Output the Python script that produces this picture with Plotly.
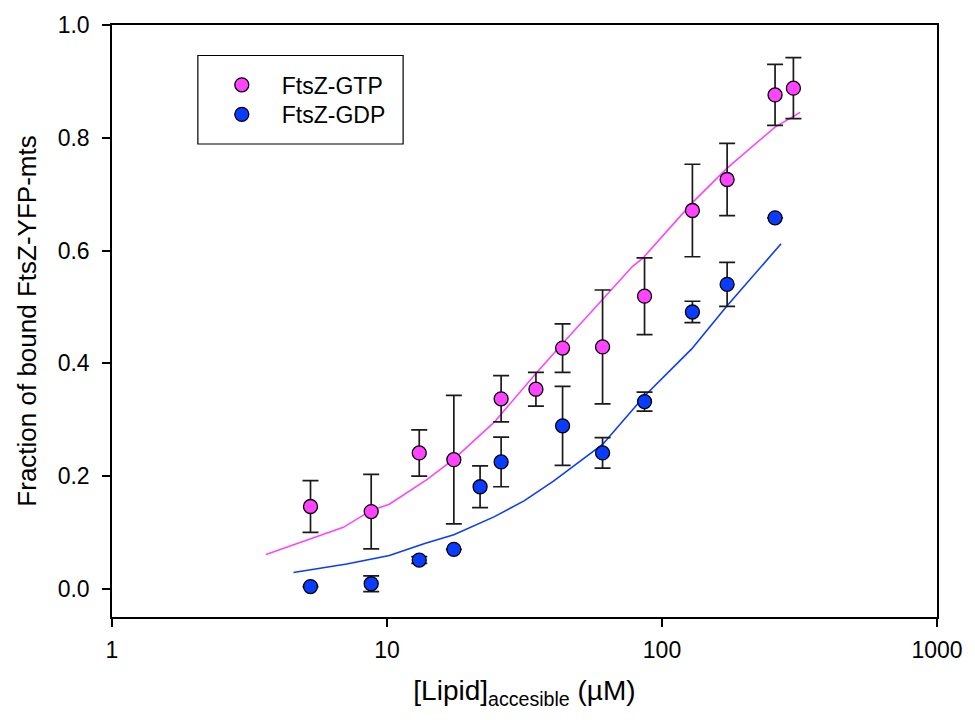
import plotly.graph_objects as go

# Accessible lipid concentration (µM) and fraction of bound FtsZ-YFP-mts
gtp_x = [5.27, 8.76, 13.1, 17.5, 26.0, 34.8, 43.5, 60.8, 86.4, 129, 172.5, 257.7, 300.5]
gtp_y = [0.146, 0.137, 0.241, 0.229, 0.337, 0.354, 0.427, 0.429, 0.519, 0.671, 0.726, 0.876, 0.888]
gtp_err = [0.046, 0.066, 0.041, 0.114, 0.041, 0.030, 0.043, 0.101, 0.068, 0.082, 0.064, 0.054, 0.054]

gdp_x = [5.27, 8.76, 13.1, 17.5, 21.8, 26.0, 43.5, 60.8, 86.4, 129, 172.5, 257.7]
gdp_y = [0.004, 0.009, 0.051, 0.070, 0.181, 0.225, 0.289, 0.241, 0.332, 0.491, 0.540, 0.658]
gdp_err = [None, 0.014, 0.006, None, 0.037, 0.044, 0.070, 0.027, 0.017, 0.019, 0.039, None]

# Binding fit curves
gtp_fit_x = [3.63, 6.94, 8.76, 10.2, 14.0, 17.5, 24.6, 34.8, 43.5, 61, 78.2, 85, 129, 172.5, 257.7, 318]
gtp_fit_y = [0.061, 0.109, 0.139, 0.150, 0.194, 0.230, 0.296, 0.382, 0.435, 0.514, 0.572, 0.586, 0.685, 0.746, 0.819, 0.845]
gdp_fit_x = [4.57, 7.14, 10.2, 13.8, 17.5, 24.6, 31.5, 40.3, 60.8, 86.4, 128, 172.5, 271]
gdp_fit_y = [0.029, 0.044, 0.059, 0.081, 0.096, 0.128, 0.156, 0.191, 0.256, 0.342, 0.425, 0.502, 0.612]

x_ticks = [1, 10, 100, 1000]
x_tick_labels = ["1", "10", "100", "1000"]
y_ticks = [0.0, 0.2, 0.4, 0.6, 0.8, 1.0]

PINK = "#ff44ff"
BLUE = "#0a3cff"
FONT = "Liberation Sans, Arial, sans-serif"

fig = go.Figure()

fig.add_trace(go.Scatter(x=gtp_fit_x, y=gtp_fit_y, mode="lines",
                         line=dict(color=PINK, width=1.6), showlegend=False, hoverinfo="skip"))
fig.add_trace(go.Scatter(x=gdp_fit_x, y=gdp_fit_y, mode="lines",
                         line=dict(color=BLUE, width=1.6), showlegend=False, hoverinfo="skip"))

err_style = dict(type="data", visible=True, color="#1a1a1a", thickness=1.7, width=8)

fig.add_trace(go.Scatter(
    x=gtp_x, y=gtp_y, mode="markers", name="FtsZ-GTP",
    error_y=dict(array=gtp_err, **err_style),
    marker=dict(color=PINK, size=14, line=dict(color="black", width=1.3)),
    legend="legend"))
fig.add_trace(go.Scatter(
    x=gdp_x, y=gdp_y, mode="markers", name="FtsZ-GDP",
    error_y=dict(array=gdp_err, **err_style),
    marker=dict(color=BLUE, size=14, line=dict(color="black", width=1.3)),
    legend="legend2"))

L, R, T, B = 112, 27, 15, 103
W, H = 975, 720
pw, ph = W - L - R, H - T - B

def px_x(p):
    return (p - L) / pw

def px_y(p):
    return (H - B - p) / ph

# legend frame
fig.add_shape(type="rect", xref="paper", yref="paper",
              x0=px_x(199), x1=px_x(407), y0=px_y(136), y1=px_y(46),
              line=dict(color="black", width=1.2), fillcolor="rgba(0,0,0,0)")

legend_style = dict(xanchor="left", yanchor="top", bgcolor="rgba(0,0,0,0)", borderwidth=0,
                    font=dict(family=FONT, size=23, color="black"), itemwidth=70)

fig.update_layout(
    width=W, height=H,
    margin=dict(l=L, r=R, t=T, b=B, pad=0),
    paper_bgcolor="white", plot_bgcolor="white",
    font=dict(family=FONT, size=21, color="black"),
    showlegend=True,
    legend=dict(x=px_x(203), y=px_y(54), **legend_style),
    legend2=dict(x=px_x(203), y=px_y(84), **legend_style),
    xaxis=dict(type="log", range=[0, 3], tickvals=x_ticks, ticktext=x_tick_labels,
               showline=True, linecolor="black", linewidth=1.5, mirror=True,
               ticks="outside", ticklen=8, tickwidth=1.5, tickcolor="black",
               showgrid=False, zeroline=False, ticklabelstandoff=4,
               tickfont=dict(family=FONT, size=23, color="black"),
               title=dict(text="[Lipid]<sub>accesible</sub> (µM)",
                          font=dict(family=FONT, size=28, color="black"), standoff=18)),
    yaxis=dict(range=[-0.05, 1.0], tickvals=y_ticks, tickformat=".1f",
               showline=True, linecolor="black", linewidth=1.5, mirror=True,
               ticks="outside", ticklen=8, tickwidth=1.5, tickcolor="black",
               showgrid=False, zeroline=False, ticklabelstandoff=8,
               tickfont=dict(family=FONT, size=23, color="black"),
               title=dict(text="Fraction of bound FtsZ-YFP-mts",
                          font=dict(family=FONT, size=26, color="black"), standoff=14)),
)

fig.write_html("out.html")
